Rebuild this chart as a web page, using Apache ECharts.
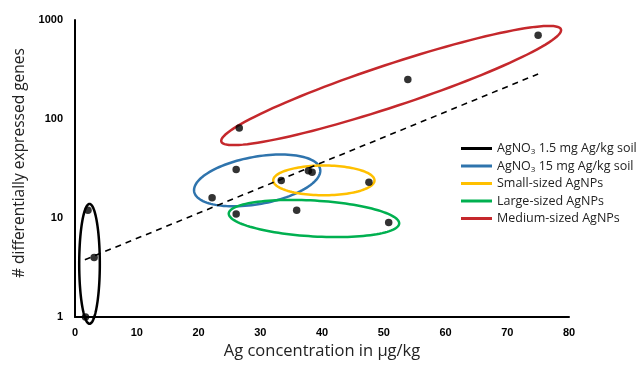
<!DOCTYPE html>
<html>
<head>
<meta charset="utf-8">
<script src="https://cdn.jsdelivr.net/npm/echarts@6/dist/echarts.min.js"></script>
<style>
  html, body { margin: 0; padding: 0; background: #fff; }
  #chart { width: 641px; height: 365px; }
</style>
</head>
<body>
<div id="chart"></div>
<script>
// groups shown in the legend
const groupNames = [
  'AgNO3 1.5 mg Ag/kg soil',
  'AgNO3 15 mg Ag/kg soil',
  'Small-sized AgNPs',
  'Large-sized AgNPs',
  'Medium-sized AgNPs'
]
const groupColors = ['#000000', '#2f74ad', '#ffc000', '#00b050', '#c5282c']

// measured points [Ag µg/kg, # DEGs]
const lowAgNO3Pts = [[2.1, 12], [3.1, 4], [1.7, 1]]
const highAgNO3Pts = [[22.2, 16], [26.1, 31]]
const smallPts = [[33.4, 24], [37.8, 30], [38.4, 29], [47.6, 23]]
const largePts = [[26.1, 11], [35.9, 12], [50.8, 9]]
const mediumPts = [[26.6, 81], [53.9, 250], [75, 700]]

// group ellipses: centre, end of long axis (data units), short/long ratio
const ellipseCenters = [[2.35, 3.45], [29.5, 24.0], [40.3, 24.0], [38.7, 9.9], [51.2, 218]]
const ellipseEnds = [[2.35, 13.9], [39.7, 31.2], [48.5, 24.0], [52.5, 8.8], [78.7, 804]]
const ellipseRatios = [0.172, 0.37, 0.294, 0.21, 0.118]

// trend line
const trendPts = [[1.6, 3.8], [75, 285]]

const xTicks = [0, 80, 10]
const yTicks = [1, 1000]

const chart = echarts.init(document.getElementById('chart'), null, { renderer: 'canvas' })

function ellipseItem(params, api) {
  const c = api.coord([api.value(0), api.value(1)])
  const e = api.coord([api.value(2), api.value(3)])
  const dx = e[0] - c[0], dy = e[1] - c[1]
  const a = Math.hypot(dx, dy)
  const b = a * api.value(4)
  const ux = dx / a, uy = dy / a
  const pts = []
  for (let i = 0; i < 120; i++) {
    const t = i / 120 * 2 * Math.PI
    pts.push([
      c[0] + a * Math.cos(t) * ux - b * Math.sin(t) * uy,
      c[1] + a * Math.cos(t) * uy + b * Math.sin(t) * ux
    ])
  }
  return {
    type: 'polygon',
    shape: { points: pts },
    style: { fill: 'none', stroke: api.visual('color'), lineWidth: 2.5 }
  }
}

const ellipseSeries = groupNames.map((name, i) => ({
  name: name,
  type: 'custom',
  color: groupColors[i],
  clip: false,
  renderItem: ellipseItem,
  encode: { x: [0, 2], y: [1, 3] },
  data: [[ellipseCenters[i][0], ellipseCenters[i][1], ellipseEnds[i][0], ellipseEnds[i][1], ellipseRatios[i]]],
  z: 2
}))

const allPts = [].concat(lowAgNO3Pts, highAgNO3Pts, smallPts, largePts, mediumPts)

const option = {
  animation: false,
  backgroundColor: '#fff',
  textStyle: { fontFamily: 'Open Sans' },
  grid: { left: 75, right: 72, top: 20, bottom: 43 },
  legend: {
    orient: 'vertical',
    left: 456,
    top: 136,
    itemWidth: 31,
    itemHeight: 3,
    itemGap: 2.5,
    icon: 'rect',
    data: groupNames,
    formatter: name => name.replace('AgNO3', 'AgNO{sub|3}'),
    textStyle: {
      fontFamily: 'Open Sans',
      fontSize: 12.5,
      color: '#222',
      lineHeight: 15,
      rich: {
        sub: { fontSize: 8, verticalAlign: 'bottom', lineHeight: 15, fontFamily: 'Open Sans', color: '#222' }
      }
    }
  },
  xAxis: {
    type: 'value',
    min: xTicks[0],
    max: xTicks[1],
    interval: xTicks[2],
    name: 'Ag concentration in μg/kg',
    nameLocation: 'middle',
    nameGap: 25,
    nameTextStyle: { fontFamily: 'Open Sans', fontSize: 16.5, color: '#222' },
    axisLine: { lineStyle: { color: '#000', width: 2 } },
    axisTick: { show: false },
    splitLine: { show: false },
    axisLabel: { fontFamily: 'Liberation Sans', fontWeight: 'bold', fontSize: 11, color: '#000', margin: 10 }
  },
  yAxis: {
    type: 'log',
    logBase: 10,
    min: yTicks[0],
    max: yTicks[1],
    name: '# differentially expressed genes',
    nameLocation: 'middle',
    nameGap: 45,
    nameTextStyle: { fontFamily: 'Open Sans', fontSize: 15.5, color: '#222', padding: [0, 0, 0, 11] },
    axisLine: { show: true, lineStyle: { color: '#000', width: 2 } },
    axisTick: { show: false },
    splitLine: { show: false },
    axisLabel: {
      fontFamily: 'Liberation Sans', fontWeight: 'bold', fontSize: 11, color: '#000', margin: 12,
      formatter: v => String(v)
    }
  },
  series: ellipseSeries.concat([
    {
      type: 'line',
      data: trendPts,
      showSymbol: false,
      silent: true,
      lineStyle: { color: '#000', width: 1.6, type: [6, 5] },
      z: 3
    },
    {
      type: 'scatter',
      data: allPts,
      symbolSize: 7.5,
      clip: false,
      itemStyle: { color: '#000' },
      z: 4
    }
  ])
}

chart.setOption(option)
</script>
</body>
</html>
